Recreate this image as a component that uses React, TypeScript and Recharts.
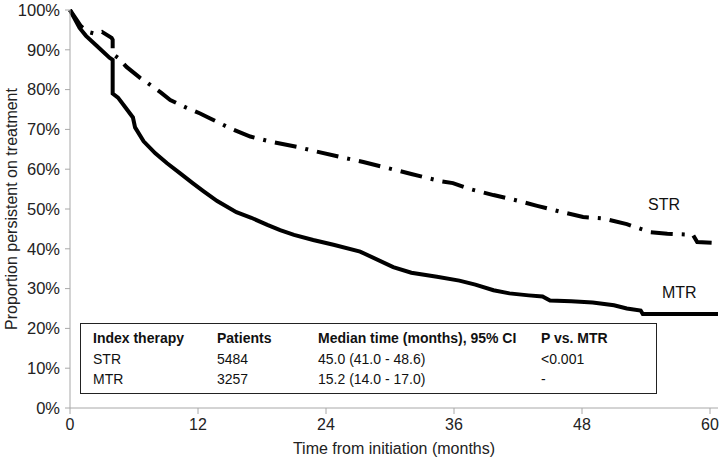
import { LineChart, Line, XAxis, YAxis, Label } from 'recharts'

const xTicks = [0, 12, 24, 36, 48, 60]
const yTicks = [0, 10, 20, 30, 40, 50, 60, 70, 80, 90, 100]

// MTR (solid)
const mtrMonths = [0, 0.4, 0.9, 1.5, 2.5, 3.7, 4.0, 4.0, 4.5, 5.2, 5.9, 6.1, 6.9, 8, 9.1, 10.3, 11.5, 12.5, 13.8, 15.6, 17, 18.5, 19.7, 21, 22.8, 24.7, 27.2, 30.3, 32, 34.4, 36.5, 38, 39.7, 41.2, 43, 44.3, 45, 47, 49, 51, 52.2, 53.5, 53.7, 60.75]
const mtrPct = [100, 98, 95.5, 93.5, 91, 88, 87.5, 79, 78, 75.5, 73, 70.5, 67, 64, 61.5, 59, 56.5, 54.5, 52, 49.2, 47.8, 46, 44.7, 43.5, 42.2, 41, 39.3, 35.4, 34, 33, 32, 31, 29.6, 28.8, 28.3, 28, 27, 26.8, 26.5, 25.8, 25, 24.5, 23.6, 23.6]

// STR (dash-dot)
const strMonths = [0, 0.5, 1, 1.7, 2.4, 3, 3.9, 4.0, 4.0, 4.5, 5.3, 6.6, 7.3, 8.5, 9.4, 10.8, 12.2, 13.1, 15, 16.9, 19, 21.3, 23, 25.3, 27.5, 29.3, 32, 34.7, 35.9, 37.5, 39.7, 41.8, 43.8, 46, 48.1, 50, 52.2, 53.5, 54.4, 56, 58.4, 58.8, 60.3]
const strPct = [100, 98, 96, 94.5, 94, 94.5, 93, 92.5, 89, 88, 85.7, 82.9, 81.6, 79.3, 77.4, 75.6, 74, 72.8, 70.3, 68.2, 66.8, 65.6, 64.5, 63.1, 61.8, 60.6, 58.8, 57, 56.5, 55, 53.5, 52.2, 50.8, 49.3, 48, 47.6, 46.2, 45, 44.2, 43.8, 43.5, 41.7, 41.5]

const tableHeader = ['Index therapy', 'Patients', 'Median time (months), 95% CI', 'P vs. MTR']
const tableRows = [
  ['STR', '5484', '45.0 (41.0 - 48.6)', '<0.001'],
  ['MTR', '3257', '15.2 (14.0 - 17.0)', '-'],
]

const mtrData = mtrMonths.map((m, i) => ({ month: m, pct: mtrPct[i] }))
const strData = strMonths.map((m, i) => ({ month: m, pct: strPct[i] }))

const font = '"Liberation Sans", Arial, sans-serif'
const axisGrey = '#a8a8a8'
const colLeft = [12, 136, 237, 460]

export default function App() {
  return (
    <div style={{ position: 'relative', width: 720, height: 459, background: '#fff', fontFamily: font }}>
      <style>{`body{margin:0}`}</style>
      <LineChart width={720} height={459} margin={{ top: 10, right: 2, left: 0, bottom: 0 }}>
        <XAxis
          type="number"
          dataKey="month"
          domain={[0, 60.75]}
          ticks={xTicks}
          allowDuplicatedCategory={false}
          height={51}
          stroke={axisGrey}
          tickSize={6}
          tickMargin={5}
          tick={{ fill: '#222', fontSize: 16, fontFamily: font }}
        >
          <Label
            value="Time from initiation (months)"
            position="insideBottom"
            offset={5}
            style={{ fill: '#222', fontSize: 16, fontFamily: font }}
          />
        </XAxis>
        <YAxis
          type="number"
          dataKey="pct"
          domain={[0, 100]}
          ticks={yTicks}
          width={70}
          stroke={axisGrey}
          tickSize={5}
          tickMargin={5}
          tickFormatter={v => `${v}%`}
          tick={{ fill: '#222', fontSize: 16.5, fontFamily: font }}
        >
          <Label
            value="Proportion persistent on treatment"
            angle={-90}
            position="insideLeft"
            offset={11}
            style={{ fill: '#222', fontSize: 16, fontFamily: font, textAnchor: 'middle' }}
          />
        </YAxis>
        <Line
          data={strData}
          dataKey="pct"
          type="linear"
          stroke="#000"
          strokeWidth={4}
          strokeDasharray="22 9 3 9"
          dot={false}
          isAnimationActive={false}
        />
        <Line
          data={mtrData}
          dataKey="pct"
          type="linear"
          stroke="#000"
          strokeWidth={4}
          dot={false}
          isAnimationActive={false}
        />
      </LineChart>

      <div style={{ position: 'absolute', left: 648, top: 196, fontSize: 16, color: '#111' }}>STR</div>
      <div style={{ position: 'absolute', left: 662, top: 284, fontSize: 16, color: '#111' }}>MTR</div>

      <div
        style={{
          position: 'absolute',
          left: 80,
          top: 323,
          width: 577,
          height: 71,
          border: '1.5px solid #222',
          boxSizing: 'border-box',
          background: '#fff',
          fontSize: 14,
          color: '#111',
        }}
      >
        {tableHeader.map((h, i) => (
          <div key={h} style={{ position: 'absolute', left: colLeft[i], top: 6, fontWeight: 'bold' }}>
            {h}
          </div>
        ))}
        {tableRows.map((row, r) =>
          row.map((c, i) => (
            <div key={r + '-' + i} style={{ position: 'absolute', left: colLeft[i], top: 27 + r * 20 }}>
              {c}
            </div>
          ))
        )}
      </div>
    </div>
  )
}
